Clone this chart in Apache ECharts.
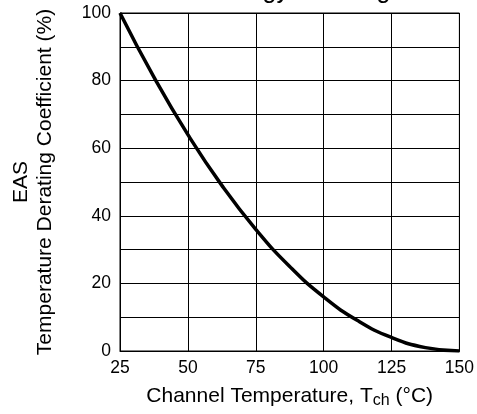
<!DOCTYPE html>
<html>
<head>
<meta charset="utf-8">
<script src="https://cdn.jsdelivr.net/npm/echarts@6/dist/echarts.min.js"></script>
<style>
  html, body { margin: 0; padding: 0; background: #fff; }
  #chart { width: 477px; height: 414px; }
</style>
</head>
<body>
<div id="chart"></div>
<script>
// Channel temperature (°C) and the EAS derating coefficient (%) at each point
const channelTemps = [25, 37.5, 50, 62.5, 75, 87.5, 100, 112.5, 125, 137.5, 150];
const deratingPct  = [100, 81, 64, 49, 36, 25, 16, 9, 4, 1, 0];

const xTicks = [25, 50, 75, 100, 125, 150];
const yTicks = [0, 20, 40, 60, 80, 100];

const titleText = 'Avalanche Energy Derating';
const xTitle = 'Channel Temperature, T';
const xTitleSub = 'ch';
const xTitleTail = ' (°C)';
const yTitleLines = ['EAS', 'Temperature Derating Coefficient (%)'];

const FONT = 'Arial, "Liberation Sans", Helvetica, sans-serif';

const chart = echarts.init(document.getElementById('chart'), null, { renderer: 'canvas' });

chart.setOption({
  animation: false,
  backgroundColor: '#ffffff',
  textStyle: { fontFamily: FONT, color: '#000' },
  graphic: [{
    type: 'text',
    left: 'center',
    top: -21,
    style: {
      text: titleText,
      fontSize: 25,
      fontFamily: FONT,
      fill: '#000'
    }
  }],
  grid: {
    left: 120, right: 15, top: 13, bottom: 62,
    show: true,
    borderColor: '#000',
    borderWidth: 1
  },
  xAxis: {
    type: 'value',
    min: 25, max: 150, interval: 25,
    axisLine: { show: true, lineStyle: { color: '#000', width: 1 } },
    axisTick: { show: false },
    axisLabel: {
      color: '#000', fontSize: 17.5, fontFamily: FONT, margin: 8,
      formatter: v => (xTicks.indexOf(v) >= 0 ? String(v) : '')
    },
    splitLine: { show: true, lineStyle: { color: '#000', width: 1 } },
    name: xTitle + '{sub|' + xTitleSub + '}' + xTitleTail,
    nameLocation: 'middle',
    nameGap: 33,
    nameTextStyle: {
      color: '#000', fontSize: 21, fontFamily: FONT,
      rich: {
        sub: { fontSize: 16, fontFamily: FONT, color: '#000', padding: [9, 0, 0, 0] }
      }
    }
  },
  yAxis: {
    type: 'value',
    min: 0, max: 100, interval: 10,
    axisLine: { show: true, lineStyle: { color: '#000', width: 1 } },
    axisTick: { show: false },
    axisLabel: {
      color: '#000', fontSize: 17.5, fontFamily: FONT, margin: 9,
      formatter: v => (yTicks.indexOf(v) >= 0 ? String(v) : '')
    },
    splitLine: { show: true, lineStyle: { color: '#000', width: 1 } },
    name: yTitleLines.join('\n'),
    nameLocation: 'middle',
    nameRotate: 90,
    nameGap: 63,
    nameTextStyle: { color: '#000', fontSize: 21, fontFamily: FONT, lineHeight: 24 }
  },
  series: [{
    type: 'line',
    data: channelTemps.map((t, i) => [t, deratingPct[i]]),
    smooth: true,
    showSymbol: false,
    lineStyle: { color: '#000', width: 3.5 },
    z: 5
  }]
});
</script>
</body>
</html>
